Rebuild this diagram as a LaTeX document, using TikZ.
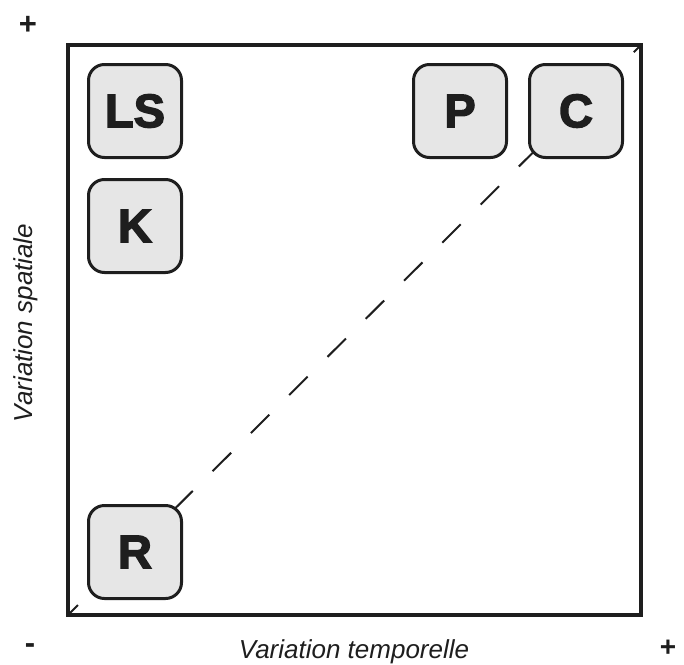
\documentclass[tikz,border=0pt]{standalone}
\usepackage{fontspec}
\setmainfont{Liberation Sans}
\newfontfamily\heavyfont{Liberation Sans Bold}[FakeBold=3]
\definecolor{ink}{HTML}{1E1E1E}
\definecolor{boxfill}{HTML}{E6E6E6}
\begin{document}
\begin{tikzpicture}[x=1pt,y=-1pt,
  cat/.style={draw=ink, line width=3pt, rounded corners=16pt, fill=boxfill,
    minimum width=93pt, minimum height=93pt, inner sep=0pt,
    text=ink, font=\heavyfont\fontsize{47}{50}\selectfont},
  axislabel/.style={text=ink, font=\itshape\fontsize{26}{30}\selectfont, inner sep=0pt},
  signlabel/.style={text=ink, font=\bfseries\fontsize{28}{32}\selectfont, inner sep=0pt}]
\useasboundingbox (0,0) rectangle (684,664);
\coordinate (bl) at (68,615);
\coordinate (tr) at (641,45);
\draw[ink, line width=2pt, dash pattern=on 26pt off 28pt, dash phase=12pt] (bl) -- (tr);
\draw[ink, line width=4pt] (bl) rectangle (tr);
\node[cat] (LS) at (135,111) {LS};
\node[cat] (K) at (135,226) {K};
\node[cat] (R) at (135,552) {R};
\node[cat] (P) at (460,111) {P};
\node[cat] (C) at (576,111) {C};
\node[axislabel, anchor=base] (xl) at (354,658) {Variation temporelle};
\node[axislabel, rotate=90, anchor=base] (yl) at (32,323) {Variation spatiale};
\node[signlabel, font=\bfseries\fontsize{31}{34}\selectfont] (pt) at (28,25) {+};
\node[signlabel] (pr) at (668,648) {+};
\node[signlabel, font=\bfseries\fontsize{31}{34}\selectfont] (mb) at (30,649) {-};
\end{tikzpicture}
\end{document}
